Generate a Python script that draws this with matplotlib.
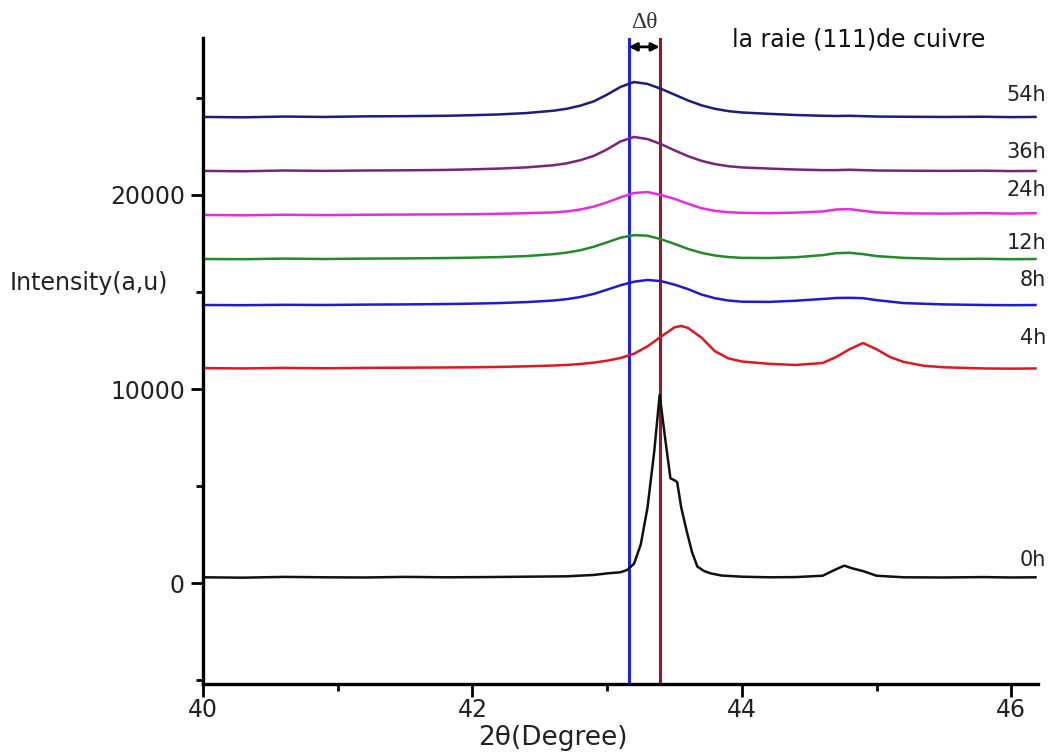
import matplotlib.pyplot as plt

# sampling positions (2theta, degree)
x_0h = [40.0, 40.3, 40.6, 40.9, 41.2, 41.5, 41.8, 42.1, 42.4, 42.7, 42.9, 43.0, 43.1,
        43.15, 43.2, 43.25, 43.3, 43.35, 43.39, 43.43, 43.47, 43.5, 43.52, 43.55, 43.59,
        43.63, 43.67, 43.72, 43.77, 43.85, 44.0, 44.2, 44.4, 44.6, 44.68, 44.76, 44.82,
        44.9, 45.0, 45.2, 45.5, 45.8, 46.0, 46.18]
y_0h = [300, 280, 320, 300, 290, 320, 300, 310, 330, 350, 420, 500, 560,
        680, 1000, 2000, 3900, 6800, 9700, 7500, 5400, 5300, 5200, 3900, 2700,
        1600, 850, 620, 500, 390, 330, 300, 310, 380, 650, 900, 760,
        620, 380, 300, 290, 310, 290, 300]

x_4h = [40.0, 40.3, 40.6, 40.9, 41.2, 41.5, 41.8, 42.0, 42.2, 42.4, 42.6, 42.7, 42.8,
        42.9, 43.0, 43.1, 43.2, 43.3, 43.4, 43.5, 43.55, 43.6, 43.7, 43.8, 43.9, 44.0,
        44.2, 44.4, 44.6, 44.7, 44.8, 44.9, 45.0, 45.1, 45.2, 45.35, 45.5, 45.8, 46.0, 46.18]
y_4h = [11080, 11060, 11090, 11070, 11090, 11100, 11110, 11120, 11140, 11170, 11210, 11240, 11290,
        11360, 11460, 11600, 11820, 12200, 12700, 13180, 13250, 13150, 12650, 11950, 11580, 11420,
        11300, 11240, 11340, 11650, 12050, 12370, 12050, 11650, 11400, 11200, 11120, 11060, 11050, 11060]

# broad peaks share one grid
x_broad = [40.0, 40.3, 40.6, 40.9, 41.2, 41.5, 41.8, 42.0, 42.2, 42.4, 42.6, 42.7, 42.8,
           42.9, 43.0, 43.1, 43.2, 43.3, 43.4, 43.5, 43.6, 43.7, 43.8, 43.9, 44.0, 44.2,
           44.4, 44.6, 44.7, 44.8, 44.9, 45.0, 45.2, 45.5, 45.8, 46.0, 46.18]
y_8h = [14330, 14320, 14340, 14330, 14350, 14360, 14380, 14400, 14430, 14480, 14560, 14630, 14740,
        14900, 15120, 15350, 15530, 15620, 15560, 15380, 15150, 14870, 14680, 14560, 14500, 14490,
        14550, 14640, 14690, 14700, 14680, 14580, 14430, 14360, 14330, 14320, 14330]
y_12h = [16700, 16690, 16720, 16700, 16720, 16730, 16750, 16770, 16800, 16850, 16950, 17030, 17150,
         17330, 17560, 17800, 17930, 17900, 17720, 17480, 17220, 17020, 16880, 16800, 16760, 16750,
         16790, 16900, 17000, 17020, 16950, 16850, 16760, 16700, 16710, 16690, 16700]
y_24h = [18970, 18950, 18980, 18960, 18980, 18990, 19000, 19010, 19030, 19060, 19100, 19150, 19250,
         19400, 19620, 19880, 20100, 20150, 20000, 19800, 19550, 19320, 19180, 19110, 19080, 19060,
         19090, 19150, 19250, 19270, 19180, 19100, 19050, 19040, 19060, 19040, 19060]
y_36h = [21240, 21220, 21260, 21240, 21260, 21270, 21290, 21320, 21360, 21420, 21530, 21630, 21790,
         22010, 22350, 22760, 22990, 22880, 22620, 22300, 22000, 21760, 21590, 21480, 21420, 21360,
         21310, 21280, 21280, 21300, 21280, 21260, 21250, 21240, 21250, 21230, 21240]
y_54h = [24020, 24000, 24040, 24020, 24050, 24060, 24080, 24110, 24150, 24220, 24340, 24440, 24600,
         24820, 25170, 25570, 25820, 25720, 25470, 25170, 24870, 24620, 24440, 24320, 24250, 24180,
         24120, 24080, 24070, 24080, 24060, 24040, 24030, 24020, 24030, 24010, 24020]

labels = ["0h", "4h", "8h", "12h", "24h", "36h", "54h"]
label_y = [1190, 12630, 15620, 17530, 20260, 22220, 25150]
colors = ["#111111", "#e3161f", "#1c1cd6", "#238a2c", "#e52ce0", "#7b2379", "#1c1c82"]

peak_blue = 43.16
peak_red = 43.39

fig = plt.figure(figsize=(10.54, 7.53), dpi=100)
ax = fig.add_axes([0.1926, 0.0916, 0.7924, 0.858])

series = [(x_0h, y_0h), (x_4h, y_4h), (x_broad, y_8h), (x_broad, y_12h),
          (x_broad, y_24h), (x_broad, y_36h), (x_broad, y_54h)]
for (xs, ys), c in zip(series, colors):
    ax.plot(xs, ys, color=c, lw=1.8, solid_joinstyle="round")

ax.axvline(peak_blue, color="#1f1fff", lw=2.2, zorder=1)
ax.axvline(peak_red, color="#8e1c26", lw=2.2, zorder=1)

for lab, ly in zip(labels, label_y):
    ax.text(46.26, ly, lab, ha="right", va="center", fontsize=15, color="#222222", clip_on=False)

ax.annotate("", xy=(peak_blue, 27630), xytext=(peak_red, 27630),
            arrowprops=dict(arrowstyle="<|-|>", color="black", lw=2, mutation_scale=12,
                            shrinkA=0, shrinkB=0))
ax.text((peak_blue + peak_red) / 2, 28350, "Δθ", ha="center", va="bottom", fontsize=17,
        family="Liberation Serif", color="#333333", clip_on=False)
ax.text(43.93, 27990, "la raie (111)de cuivre", ha="left", va="center", fontsize=17,
        color="#111111", clip_on=False)

ax.set_xlim(40, 46.2)
ax.set_ylim(-5200, 28090)
ax.set_xticks([40, 42, 44, 46])
ax.set_xticks([41, 43, 45], minor=True)
ax.set_yticks([0, 10000, 20000])
ax.set_yticks([-5000, 5000, 15000, 25000], minor=True)

for s in ["top", "right"]:
    ax.spines[s].set_visible(False)
for s in ["left", "bottom"]:
    ax.spines[s].set_linewidth(2.4)
ax.tick_params(which="major", length=9, width=2, labelsize=17, colors="black")
ax.tick_params(which="minor", length=5, width=2)
ax.tick_params(axis="y", pad=4)
ax.tick_params(axis="x", pad=1)
for t in ax.get_xticklabels() + ax.get_yticklabels():
    t.set_color("#222222")

ax.set_xlabel("2θ(Degree)", fontsize=19, color="#222222")
ax.xaxis.set_label_coords(0.419, -0.063)
fig.text(10 / 1054, 1 - 283 / 753, "Intensity(a,u)", ha="left", va="center",
         fontsize=17, color="#222222")

fig.savefig("out.png", dpi=100)
